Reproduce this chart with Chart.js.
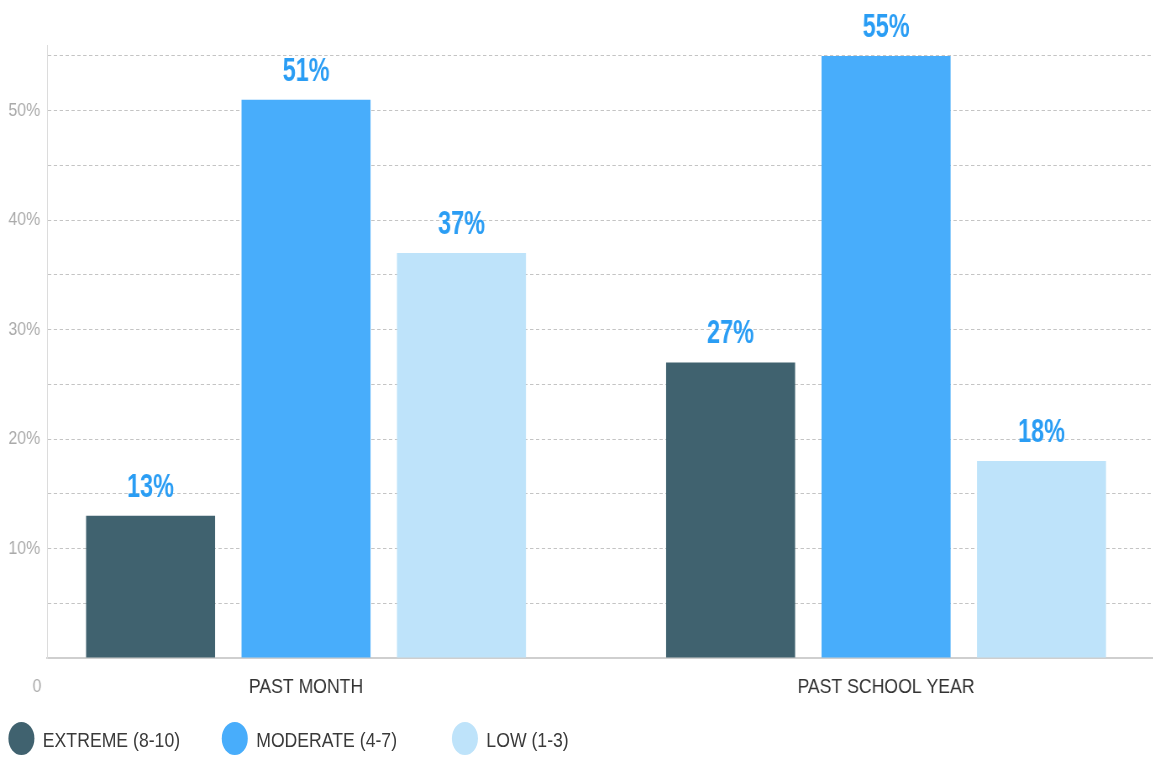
<!DOCTYPE html>
<html>
<head>
<meta charset="utf-8">
<script src="https://cdn.jsdelivr.net/npm/chart.js@4"></script>
<style>
body{margin:0;background:#fff;overflow:hidden;}
/* the original picture is squeezed sideways, so draw wide and squeeze */
#wrap{position:relative;width:1373px;height:757px;transform:scaleX(0.84);transform-origin:0 0;}
#legend{position:absolute;left:0;top:722px;font:21px 'Liberation Sans',Arial,sans-serif;color:#3a3a3a;}
.item{position:absolute;top:0;white-space:nowrap;}
.dot{position:absolute;left:0;top:0;width:31px;height:33px;border-radius:50%;}
.txt{position:absolute;top:6px;}
</style>
</head>
<body>
<div id="wrap">
<canvas id="chart" width="1373" height="757"></canvas>
<div id="legend"></div>
</div>
<script>

let categories=["PAST MONTH","PAST SCHOOL YEAR"];
let seriesNames=["EXTREME (8-10)","MODERATE (4-7)","LOW (1-3)"];
let extreme=[13,27];
let moderate=[51,55];
let low=[37,18];
let yTicks=[0,5,10,15,20,25,30,35,40,45,50,55];

let colors=["#40626f","#48adfb","#bee3fa"];
let font="'Liberation Sans',Arial,sans-serif";

function toPoints(values){
return values.map(function(v,i){return {x:i,y:v};});
}

let valueLabels={
id:"valueLabels",
afterDatasetsDraw:function(chart){
let ctx=chart.ctx;
chart.data.datasets.forEach(function(ds,i){
chart.getDatasetMeta(i).data.forEach(function(bar,j){
ctx.save();
ctx.translate(bar.x,bar.y-19);
ctx.scale(0.82,1);
ctx.font="bold 34px "+font;
ctx.fillStyle="#2a9df4";
ctx.textAlign="center";
ctx.textBaseline="alphabetic";
ctx.fillText(ds.data[j].y+"%",0,0);
ctx.restore();
});
});
// the lone zero label sits under the baseline
let y=chart.scales.y;
ctx.save();
ctx.font="19px "+font;
ctx.fillStyle="#aaa";
ctx.textAlign="center";
ctx.textBaseline="middle";
ctx.fillText("0",44,y.getPixelForValue(0)+29);
ctx.restore();
}
};

new Chart(document.getElementById("chart"),{

type:"bar",

data:{
datasets:[
{label:seriesNames[0],data:toPoints(extreme),backgroundColor:colors[0]},
{label:seriesNames[1],data:toPoints(moderate),backgroundColor:colors[1]},
{label:seriesNames[2],data:toPoints(low),backgroundColor:colors[2]}
]
},

options:{
responsive:false,
animation:false,
categoryPercentage:0.804,
barPercentage:0.83,
layout:{padding:{top:45,left:0,right:0,bottom:0}},
plugins:{legend:{display:false},tooltip:{enabled:false}},
scales:{
x:{
type:"linear",
offset:false,
min:-0.4465,
max:1.4608,
afterBuildTicks:function(s){s.ticks=categories.map(function(c,i){return {value:i};});},
afterFit:function(s){s.height=99;},
grid:{display:false,drawTicks:false,offset:false},
border:{display:true,color:"#cfcfcf",width:2},
ticks:{
padding:17,
color:"#333",
font:{family:font,size:21},
callback:function(v){return categories[v];}
}
},
y:{
min:0,
max:56,
afterBuildTicks:function(s){s.ticks=yTicks.map(function(v){return {value:v};});},
afterFit:function(s){s.width=56;},
grid:{
drawTicks:false,
color:function(c){return c.tick.value===0?"rgba(0,0,0,0)":"#c4c4c4";}
},
border:{display:true,color:"#dcdcdc",width:1,dash:[4,3]},
ticks:{
padding:8,
color:"#aaa",
font:{family:font,size:19},
callback:function(v){return v%10===0&&v>0?v+"%":"";}
}
}
}
},

plugins:[valueLabels]

});

let legend=document.getElementById("legend");
let lefts=[10,264,538];
seriesNames.forEach(function(name,i){
let item=document.createElement("div");
item.className="item";
item.style.left=lefts[i]+"px";
item.innerHTML='<span class="dot" style="background:'+colors[i]+'"></span><span class="txt" style="left:41px">'+name+'</span>';
legend.appendChild(item);
});

</script>
</body>
</html>
